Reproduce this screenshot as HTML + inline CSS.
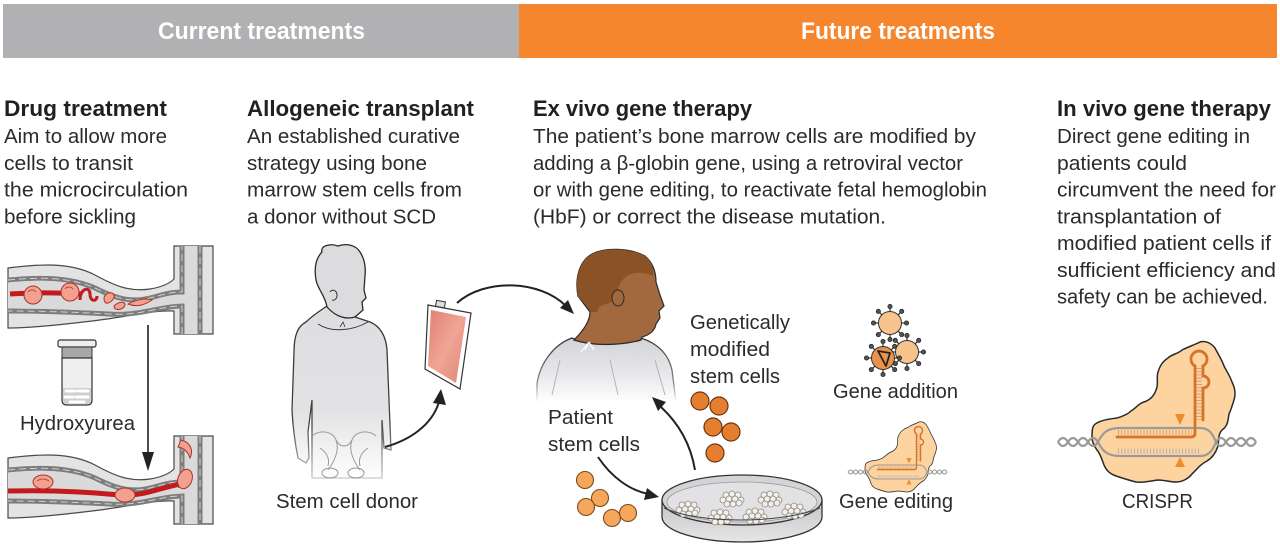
<!DOCTYPE html>
<html><head><meta charset="utf-8"><style>
html,body{margin:0;padding:0;background:#fff;}
svg{display:block;}
text{font-family:"Liberation Sans",sans-serif;}
.h{font-weight:bold;font-size:22px;fill:#231f20;}
.b{font-size:20px;fill:#2b2b2b;}
.bar{font-weight:bold;font-size:24px;fill:#fff;}
</style></head><body>
<svg width="1280" height="548" viewBox="0 0 1280 548" xmlns="http://www.w3.org/2000/svg">
<defs>
<linearGradient id="gown" x1="0" y1="0" x2="0" y2="1"><stop offset="0" stop-color="#d2d3d7"/><stop offset="0.6" stop-color="#e9e9eb"/><stop offset="1" stop-color="#fff"/></linearGradient>
<linearGradient id="gownS" x1="0" y1="0" x2="0" y2="1"><stop offset="0" stop-color="#333"/><stop offset="0.7" stop-color="#888"/><stop offset="1" stop-color="#fff"/></linearGradient>
<linearGradient id="body" gradientUnits="userSpaceOnUse" x1="0" y1="250" x2="0" y2="480"><stop offset="0" stop-color="#dcdcde"/><stop offset="0.7" stop-color="#e2e2e4"/><stop offset="1" stop-color="#fff"/></linearGradient>
<linearGradient id="bodyS" gradientUnits="userSpaceOnUse" x1="0" y1="250" x2="0" y2="480"><stop offset="0" stop-color="#2a2a2a"/><stop offset="0.75" stop-color="#444"/><stop offset="1" stop-color="#ccc"/></linearGradient>
<linearGradient id="bag" x1="0" y1="0" x2="1" y2="1"><stop offset="0" stop-color="#e07e72"/><stop offset="0.5" stop-color="#f0a595"/><stop offset="1" stop-color="#e08576"/></linearGradient>
<linearGradient id="dish" x1="0" y1="0" x2="0" y2="1"><stop offset="0" stop-color="#c4c4c6"/><stop offset="1" stop-color="#e6e6e8"/></linearGradient>
<g id="sp"><line x1="0" y1="-11" x2="0" y2="-15" stroke="#333" stroke-width="1.2"/><circle cx="0" cy="-16.5" r="2.1" fill="#555" stroke="#222" stroke-width="0.8"/></g>
<g id="spikes">
<use href="#sp"/><use href="#sp" transform="rotate(45)"/><use href="#sp" transform="rotate(90)"/><use href="#sp" transform="rotate(135)"/><use href="#sp" transform="rotate(180)"/><use href="#sp" transform="rotate(225)"/><use href="#sp" transform="rotate(270)"/><use href="#sp" transform="rotate(315)"/>
</g>
<g id="cl" fill="#f6efe8" stroke="#8a8a8a" stroke-width="0.8">
<circle cx="-6" cy="-4" r="3"/><circle cx="0" cy="-5" r="3"/><circle cx="6" cy="-4" r="3"/><circle cx="-9" cy="1" r="3"/><circle cx="-3" cy="0" r="3"/><circle cx="3" cy="0" r="3"/><circle cx="9" cy="1" r="3"/><circle cx="-5" cy="5" r="3"/><circle cx="1" cy="5" r="3"/><circle cx="7" cy="4" r="3"/>
</g>
<g id="vessel">
<path d="M8,268 C40,264 70,262 95,275 C115,286 130,292 150,289 C162,287 170,283 174,279 L174,246 L213,246 L213,334 L174,334 L174,311 C155,310 130,316 100,320 C60,325 30,328 8,328 Z" fill="#e3e3e3" stroke="#4a4a4a" stroke-width="1.2"/>
<path d="M8,280 C40,277 70,277 95,288 C115,298 130,303 150,298 C162,295 170,292 182,292 L182,246 M200,246 L200,334 M182,334 L182,306 C160,306 140,316 110,314 C70,312 40,311 8,311" fill="none" stroke="#7d7d7d" stroke-width="5"/>
<path d="M8,280 C40,277 70,277 95,288 C115,298 130,303 150,298 C162,295 170,292 182,292 L182,246 M200,246 L200,334 M182,334 L182,306 C160,306 140,316 110,314 C70,312 40,311 8,311" fill="none" stroke="#d0d0d0" stroke-width="1" stroke-dasharray="7 4"/>
<path d="M8,282.5 C40,279.5 70,279.5 94,290.5 C114,300.5 130,305.5 150,300.5 C162,297.5 170,294.5 184.5,294.5 L184.5,246 L197.5,246 L197.5,334 L184.5,334 L184.5,303.5 C160,303.5 140,313.5 110,311.5 C70,309.5 40,308.5 8,308.5 Z" fill="#dadada"/>
</g>
</defs>

<rect width="1280" height="548" fill="#fff"/>
<!-- header bars -->
<rect x="3" y="4" width="516" height="54" fill="#b1b1b4"/>
<rect x="519" y="4" width="758" height="54" fill="#f5862e"/>
<text class="bar" x="158" y="39" textLength="207" lengthAdjust="spacingAndGlyphs">Current treatments</text>
<text class="bar" x="801" y="39" textLength="194" lengthAdjust="spacingAndGlyphs">Future treatments</text>

<!-- headings -->
<text class="h" x="4" y="116" textLength="163" lengthAdjust="spacingAndGlyphs">Drug treatment</text>
<text class="h" x="247" y="116" textLength="227" lengthAdjust="spacingAndGlyphs">Allogeneic transplant</text>
<text class="h" x="533" y="116" textLength="219" lengthAdjust="spacingAndGlyphs">Ex vivo gene therapy</text>
<text class="h" x="1057" y="116" textLength="214" lengthAdjust="spacingAndGlyphs">In vivo gene therapy</text>

<!-- body text col1 -->
<text class="b" x="4" y="143" textLength="163" lengthAdjust="spacingAndGlyphs">Aim to allow more</text>
<text class="b" x="4" y="169.75" textLength="129" lengthAdjust="spacingAndGlyphs">cells to transit</text>
<text class="b" x="4" y="196.5" textLength="184" lengthAdjust="spacingAndGlyphs">the microcirculation</text>
<text class="b" x="4" y="223.25" textLength="132" lengthAdjust="spacingAndGlyphs">before sickling</text>
<!-- col2 -->
<text class="b" x="247" y="143" textLength="213" lengthAdjust="spacingAndGlyphs">An established curative</text>
<text class="b" x="247" y="169.75" textLength="180" lengthAdjust="spacingAndGlyphs">strategy using bone</text>
<text class="b" x="247" y="196.5" textLength="215" lengthAdjust="spacingAndGlyphs">marrow stem cells from</text>
<text class="b" x="247" y="223.25" textLength="189" lengthAdjust="spacingAndGlyphs">a donor without SCD</text>
<!-- col3 -->
<text class="b" x="533" y="143" textLength="443" lengthAdjust="spacingAndGlyphs">The patient’s bone marrow cells are modified by</text>
<text class="b" x="533" y="169.75" textLength="430" lengthAdjust="spacingAndGlyphs">adding a β-globin gene, using a retroviral vector</text>
<text class="b" x="533" y="196.5" textLength="454" lengthAdjust="spacingAndGlyphs">or with gene editing, to reactivate fetal hemoglobin</text>
<text class="b" x="533" y="223.25" textLength="353" lengthAdjust="spacingAndGlyphs">(HbF) or correct the disease mutation.</text>
<!-- col4 -->
<text class="b" x="1057" y="143" textLength="193" lengthAdjust="spacingAndGlyphs">Direct gene editing in</text>
<text class="b" x="1057" y="169.75" textLength="130" lengthAdjust="spacingAndGlyphs">patients could</text>
<text class="b" x="1057" y="196.5" textLength="219" lengthAdjust="spacingAndGlyphs">circumvent the need for</text>
<text class="b" x="1057" y="223.25" textLength="164" lengthAdjust="spacingAndGlyphs">transplantation of</text>
<text class="b" x="1057" y="250" textLength="214" lengthAdjust="spacingAndGlyphs">modified patient cells if</text>
<text class="b" x="1057" y="276.75" textLength="219" lengthAdjust="spacingAndGlyphs">sufficient efficiency and</text>
<text class="b" x="1057" y="303.5" textLength="211" lengthAdjust="spacingAndGlyphs">safety can be achieved.</text>

<!-- ===== Column 1: vessels ===== -->
<use href="#vessel"/>
<path d="M10,294 C30,293 50,292 82,294" fill="none" stroke="#c41a1f" stroke-width="5"/>
<circle cx="33" cy="295" r="9" fill="#f3a08f" stroke="#a8332e" stroke-width="1"/>
<path d="M28,292 a5,5 0 0 1 8,0" fill="none" stroke="#a8332e" stroke-width="0.8"/>
<circle cx="70" cy="292" r="9" fill="#f3a08f" stroke="#a8332e" stroke-width="1"/>
<path d="M65,289 a5,5 0 0 1 8,0" fill="none" stroke="#a8332e" stroke-width="0.8"/>
<path d="M80,300 C80,288 90,286 90,294 C90,302 97,302 97,296" fill="none" stroke="#c41a1f" stroke-width="3"/>
<path d="M104,298 C106,290 116,292 114,298 C110,304 104,306 104,298 Z" fill="#f3a08f" stroke="#a8332e" stroke-width="1"/>
<path d="M114,306 C120,300 128,302 124,307 C120,311 114,310 114,306 Z" fill="#f3a08f" stroke="#a8332e" stroke-width="1"/>
<path d="M128,304 C136,299 148,298 152,300 C146,304 138,308 128,304 Z" fill="#f3a08f" stroke="#a8332e" stroke-width="1"/>

<use href="#vessel" transform="translate(0,190)"/>
<path d="M8,491 C50,490 90,492 120,495 C140,497 160,488 180,484" fill="none" stroke="#c41a1f" stroke-width="5"/>
<polygon points="178,480 186,484 178,488" fill="#c41a1f"/>
<ellipse cx="43" cy="482" rx="10" ry="7" fill="#f3a08f" stroke="#a8332e" stroke-width="1"/>
<path d="M37,481 q6,-4 12,0" fill="none" stroke="#a8332e" stroke-width="0.8"/>
<ellipse cx="125" cy="495" rx="10" ry="7" fill="#f3a08f" stroke="#a8332e" stroke-width="1"/>
<ellipse cx="185" cy="479" rx="7" ry="10" transform="rotate(20 185 479)" fill="#f3a08f" stroke="#a8332e" stroke-width="1"/>
<path d="M181,440 C190,442 194,450 190,458 C188,452 184,448 178,447 Z" fill="#f3a08f" stroke="#a8332e" stroke-width="1"/>

<!-- vial -->
<rect x="58" y="340" width="38" height="7" rx="2" fill="#eee" stroke="#333" stroke-width="1.2"/>
<rect x="62" y="347" width="30" height="11" fill="#a8a8a8" stroke="#333" stroke-width="1"/>
<path d="M62,358 L62,400 Q62,405 67,405 L87,405 Q92,405 92,400 L92,358 Z" fill="#efeff0" stroke="#333" stroke-width="1.2"/>
<path d="M63,388 L91,388 L91,400 Q91,404 87,404 L67,404 Q63,404 63,400 Z" fill="#cfcfcf"/>
<path d="M66,391 h9 M78,391 h10 M65,397 h8 M76,397 h12 M70,402 h14" stroke="#fff" stroke-width="3" stroke-linecap="round"/>
<text class="b" x="20" y="430" textLength="115" lengthAdjust="spacingAndGlyphs">Hydroxyurea</text>
<!-- down arrow -->
<line x1="148" y1="325" x2="148" y2="456" stroke="#222" stroke-width="1.6"/>
<polygon points="142,452 154,452 148,471" fill="#222"/>

<!-- ===== Column 2: donor ===== -->
<path d="M327,306 C318,312 310,318 306,322 C298,326 294,335 294,352 L292,410 C293,430 296,448 298,458 L306,463 L309,458 L308,432 L312,400 L312,478 L382,478 L382,420 L384,448 L391,450 L389,400 L387,350 C386,336 380,326 370,322 L355,317 Z" fill="url(#body)" stroke="url(#bodyS)" stroke-width="1.3"/>
<path d="M327,307 C325,295 318,290 316,280 C314,268 316,258 322,252 C320,246 330,243 338,246 C346,243 356,245 360,252 C364,258 366,266 365,276 L364,290 L366,298 L362,302 L363,310 L355,317 C345,320 335,316 327,307 Z" fill="#dcdcde" stroke="#2a2a2a" stroke-width="1.3"/>
<path d="M330,292 a4,5 0 1 1 2,8" fill="none" stroke="#333" stroke-width="1"/>
<path d="M340,327 l3,-5 l2,5" fill="none" stroke="#333" stroke-width="0.8"/>
<path d="M318,324 C330,332 350,332 368,322" fill="none" stroke="#333" stroke-width="1"/>
<g fill="none" stroke="#9a9a9a" stroke-width="1">
<path d="M312,436 C318,430 332,430 336,440 C340,450 334,462 328,470"/>
<path d="M376,436 C370,430 356,430 352,440 C348,450 354,462 360,470"/>
<path d="M336,440 C340,448 348,448 352,440"/>
<ellipse cx="330" cy="473" rx="8" ry="5"/><ellipse cx="356" cy="473" rx="8" ry="5"/>
<path d="M320,448 C326,452 330,458 328,466 M368,448 C362,452 358,458 360,466"/>
</g>
<!-- blood bag -->
<polygon points="428,305 471,313 460,389 425,369" fill="#fff" stroke="#333" stroke-width="1.2"/>
<polygon points="431,310 466,317 456,383 428,366" fill="url(#bag)"/>
<rect x="436" y="301" width="9" height="6" fill="#ddd" stroke="#333" stroke-width="1" transform="rotate(10 440 304)"/>
<!-- arrows -->
<path d="M385,447 C410,440 432,425 439,402" fill="none" stroke="#222" stroke-width="2"/>
<polygon points="433,403 446,405 441,389" fill="#222"/>
<path d="M457,303 C485,278 540,280 566,306" fill="none" stroke="#222" stroke-width="2"/>
<polygon points="574,314 560,308 568,300" fill="#222"/>
<text class="b" x="276" y="508" textLength="142" lengthAdjust="spacingAndGlyphs">Stem cell donor</text>

<!-- ===== Column 3: patient ===== -->
<path d="M537,384 C540,362 555,344 572,338 C590,346 615,346 641,338 C656,343 668,352 672,370 L676,402 L537,402 Z" fill="url(#gown)" stroke="url(#gownS)" stroke-width="1.3"/>
<path d="M578,296 C575,280 578,262 592,254 C605,247 630,248 645,256 C653,263 656,272 656,282 L660,295 L664,306 L659,311 L660,318 L656,324 C655,330 650,335 642,337 L641,340 C620,346 592,346 574,340 C584,330 590,320 590,312 Z" fill="#a2693e" stroke="#2a2a2a" stroke-width="1.2"/>
<path d="M578,296 C575,280 578,262 592,254 C605,247 630,248 645,256 C652,262 654,268 653,276 C640,270 626,272 620,284 L614,300 C608,306 600,302 597,312 L590,312 C588,305 582,302 578,296 Z" fill="#8b5226"/>
<ellipse cx="618" cy="298" rx="6" ry="8" fill="#a2693e" stroke="#2a2a2a" stroke-width="1"/>
<path d="M589,342 l-4,8 M589,342 l5,8 M589,342 l-8,10" stroke="#fff" stroke-width="1.2" fill="none"/>
<path d="M560,360 L552,395 M610,360 L618,395 M655,360 L665,395" stroke="#b5b5b8" stroke-width="1" fill="none"/>
<text class="b" x="690" y="329" textLength="100" lengthAdjust="spacingAndGlyphs">Genetically</text>
<text class="b" x="690" y="356" textLength="80" lengthAdjust="spacingAndGlyphs">modified</text>
<text class="b" x="690" y="383" textLength="90" lengthAdjust="spacingAndGlyphs">stem cells</text>
<text class="b" x="548" y="424" textLength="65" lengthAdjust="spacingAndGlyphs">Patient</text>
<text class="b" x="548" y="451" textLength="92" lengthAdjust="spacingAndGlyphs">stem cells</text>
<!-- modified cells -->
<g fill="#e57f2f" stroke="#6b3512" stroke-width="1.2">
<circle cx="700" cy="401" r="9"/><circle cx="719" cy="406" r="9"/><circle cx="713" cy="427" r="9"/><circle cx="731" cy="432" r="9"/><circle cx="715" cy="453" r="9"/>
</g>
<!-- patient cells -->
<g fill="#f6a75c" stroke="#7a4a1c" stroke-width="1.1">
<circle cx="585" cy="480" r="8.5"/><circle cx="600" cy="498" r="8.5"/><circle cx="586" cy="507" r="8.5"/><circle cx="612" cy="518" r="8.5"/><circle cx="628" cy="513" r="8.5"/>
</g>
<!-- arrows -->
<path d="M598,457 C612,478 630,490 648,494" fill="none" stroke="#222" stroke-width="2"/>
<polygon points="659,497 644,500 647,488" fill="#222"/>
<path d="M695,470 C690,440 675,420 661,407" fill="none" stroke="#222" stroke-width="2"/>
<polygon points="652,397 666,402 658,411" fill="#222"/>
<!-- petri dish -->
<path d="M662,500 L662,517 A80,25 0 0 0 822,517 L822,500 Z" fill="url(#dish)" stroke="#333" stroke-width="1.3"/>
<ellipse cx="742" cy="500" rx="80" ry="25" fill="#d4d4d6" stroke="#333" stroke-width="1.3"/>
<ellipse cx="742" cy="502" rx="75" ry="20" fill="#e2e2e4" stroke="#999" stroke-width="0.8"/>
<use href="#cl" transform="translate(732,499)"/>
<use href="#cl" transform="translate(770,499)"/>
<use href="#cl" transform="translate(688,509)"/>
<use href="#cl" transform="translate(720,517)"/>
<use href="#cl" transform="translate(755,516)"/>
<use href="#cl" transform="translate(794,511)"/>
<path d="M664,508 C700,524 780,524 820,508" fill="none" stroke="#444" stroke-width="1"/>

<!-- gene addition -->
<g transform="translate(890,323)"><use href="#spikes"/><circle r="11.5" fill="#f9c38e" stroke="#333" stroke-width="1"/></g>
<g transform="translate(907,352)"><use href="#spikes"/><circle r="11.5" fill="#f9c38e" stroke="#333" stroke-width="1"/></g>
<g transform="translate(883,358)"><use href="#spikes"/><circle r="11.5" fill="#e8934a" stroke="#333" stroke-width="1"/></g>
<polygon points="878,351 890,353 886,366" fill="none" stroke="#222" stroke-width="1.8" stroke-linejoin="round"/>
<text class="b" x="833" y="398" textLength="125" lengthAdjust="spacingAndGlyphs">Gene addition</text>

<!-- CRISPR graphic -->
<g id="crispr">
<path d="M1093,427 C1095,421 1108,419 1117,418 C1124,416 1128,414 1131,411 C1136,408 1138,404 1144,402 C1150,400 1154,396 1156,390 C1159,384 1156,378 1158,372 C1160,366 1162,362 1168,358 C1172,354 1178,354 1182,350 C1188,347 1194,345 1200,342 C1206,340 1212,344 1215,348 C1218,354 1222,360 1224,366 C1227,372 1230,376 1232,382 C1235,388 1236,394 1234,400 C1232,406 1231,410 1229,414 C1228,420 1228,426 1222,430 C1218,434 1219,440 1218,446 C1216,452 1212,458 1207,461 C1201,464 1198,468 1192,474 C1188,479 1182,482 1176,482 C1170,482 1164,480 1158,480 C1150,481 1143,483 1136,482 C1128,480 1122,478 1116,476 C1110,474 1106,470 1104,465 C1102,460 1101,455 1097,450 C1094,446 1092,442 1092,437 C1092,433 1092,430 1093,427 Z" fill="#fdd3a0" stroke="#2a2a2a" stroke-width="1.5"/>
<g fill="none" stroke="#9a9a9a" stroke-width="2.2">
<path d="M1058,442 Q1063,434 1068,442 T1078,442 T1088,442 T1098,442"/>
<path d="M1058,442 Q1063,450 1068,442 T1078,442 T1088,442 T1098,442"/>
<path d="M1216,442 Q1221,434 1226,442 T1236,442 T1246,442 T1256,442"/>
<path d="M1216,442 Q1221,450 1226,442 T1236,442 T1246,442 T1256,442"/>
<path d="M1098,442 C1103,432 1108,428 1120,428 H1200 C1210,428 1213,435 1216,442"/>
<path d="M1098,442 C1103,452 1108,456 1120,456 H1200 C1210,456 1213,449 1216,442"/>
</g>
<line x1="1118" y1="432.5" x2="1192" y2="432.5" stroke="#d9a070" stroke-width="5" stroke-dasharray="1 2.2"/>
<line x1="1118" y1="451" x2="1200" y2="451" stroke="#b0b0b0" stroke-width="5" stroke-dasharray="1 2.2"/>
<line x1="1199" y1="368" x2="1199" y2="420" stroke="#d9a070" stroke-width="6" stroke-dasharray="1 2.2"/>
<g fill="none" stroke="#d5732a" stroke-width="2.8" stroke-linecap="round">
<path d="M1117,437 H1191 Q1195,437 1195,433 V366"/>
<path d="M1195,366 A8,8 0 1 1 1203,366"/>
<path d="M1203,366 V376 A5,5 0 0 1 1203,388 V420"/>
</g>
<polygon points="1175,414 1185,414 1180,425" fill="#f08a2a"/>
<polygon points="1175,467 1185,467 1180,457" fill="#f08a2a"/>
</g>
<use href="#crispr" transform="translate(319,251) scale(0.5)"/>
<text class="b" x="839" y="508" textLength="114" lengthAdjust="spacingAndGlyphs">Gene editing</text>
<text class="b" x="1122" y="508" textLength="71" lengthAdjust="spacingAndGlyphs">CRISPR</text>
</svg>
</body></html>
